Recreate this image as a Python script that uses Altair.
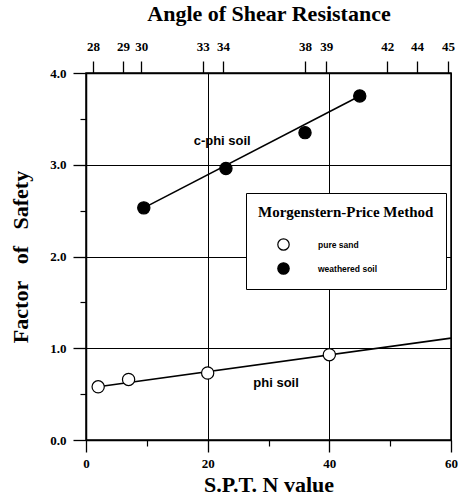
import altair as alt
import pandas as pd

# Factor of safety from the Morgenstern-Price method against SPT N value
sand_n = [2, 7, 20, 40]
sand_fs = [0.58, 0.66, 0.73, 0.93]
soil_n = [9.5, 23, 36, 45]
soil_fs = [2.53, 2.96, 3.35, 3.75]

# fitted trend lines (end points)
phi_n = [2, 60]
phi_fs = [0.58, 1.11]
cphi_n = [9.5, 45]
cphi_fs = [2.53, 3.75]

# angle of shear resistance corresponding to N (top axis)
angle_at_n = [1.15, 6.1, 9.1, 19.2, 22.5, 36.0, 39.5, 49.5, 54.4, 59.5]
angle_labels = ["28", "29", "30", "33", "34", "38", "39", "42", "44", "45"]

n_ticks = [0, 20, 40, 60]
n_minor = [10, 30, 50]
fs_ticks = [0, 1, 2, 3, 4]
fs_minor = [0.5, 1.5, 2.5, 3.5]

# curve annotations
note_text = ["c-phi soil", "phi soil"]
note_n = [17.7, 27.5]
note_fs = [3.26, 0.62]

SERIF = "Liberation Serif"
SANS = "Liberation Sans"
NBSP = "\u00a0"

points = pd.DataFrame({
    "N": sand_n + soil_n,
    "FS": sand_fs + soil_fs,
    "Soil": ["pure sand"] * len(sand_n) + ["weathered soil"] * len(soil_n),
})
lines = pd.DataFrame({
    "N": phi_n + cphi_n,
    "FS": phi_fs + cphi_fs,
    "Curve": ["phi"] * len(phi_n) + ["c-phi"] * len(cphi_n),
})
notes = pd.DataFrame({"label": note_text, "N": note_n, "FS": note_fs})

xscale = alt.Scale(domain=[0, 60], nice=False, zero=False)
yscale = alt.Scale(domain=[0, 4], nice=False, zero=False)

main_x = alt.Axis(
    orient="bottom", values=n_ticks, format="d", grid=True, gridColor="black",
    gridWidth=1, tickSize=12, tickWidth=1.3, domainWidth=1.5, labelFlush=False,
    labelFont=SERIF, labelFontWeight="bold", labelFontSize=13, labelPadding=5,
    title="S.P.T. N value", titleFont=SERIF, titleFontWeight="bold",
    titleFontSize=22, titlePadding=4,
)
main_y = alt.Axis(
    orient="left", values=fs_ticks, format=".1f", grid=True, gridColor="black",
    gridWidth=1, tickSize=13, tickWidth=1.3, domainWidth=1.5,
    labelFont=SERIF, labelFontWeight="bold", labelFontSize=13, labelPadding=7,
    title=f"Factor{NBSP * 3}of{NBSP * 3}Safety", titleFont=SERIF,
    titleFontWeight="bold", titleFontSize=22, titlePadding=17,
)
minor_x = alt.Axis(orient="bottom", values=n_minor, tickSize=6, tickWidth=1.2,
                   labels=False, domain=False, grid=False, title=None)
minor_y = alt.Axis(orient="left", values=fs_minor, tickSize=6, tickWidth=1.2,
                   labels=False, domain=False, grid=False, title=None)

label_expr = "[" + ",".join(f"'{s}'" for s in angle_labels) + "][indexof([" + \
    ",".join(str(v) for v in angle_at_n) + "], datum.value)]"
top_x = alt.Axis(
    orient="top", values=angle_at_n, labelExpr=label_expr, grid=False,
    tickSize=12, tickWidth=1.3, domainWidth=1.5, labelFlush=False,
    labelFont=SERIF, labelFontWeight="bold", labelFontSize=13, labelPadding=8,
    title="Angle of Shear Resistance", titleFont=SERIF, titleFontWeight="bold",
    titleFontSize=22, titlePadding=15,
)

dots = alt.Chart(points).mark_point(
    shape="circle", filled=True, stroke="black", strokeWidth=1.2,
    size=150, opacity=1,
).encode(
    x=alt.X("N:Q", scale=xscale, axis=main_x),
    y=alt.Y("FS:Q", scale=yscale, axis=main_y),
    fill=alt.Fill(
        "Soil:N",
        scale=alt.Scale(domain=["pure sand", "weathered soil"],
                        range=["white", "black"]),
        legend=alt.Legend(
            title="Morgenstern-Price Method", orient="none",
            legendX=160, legendY=120,
            titleFont=SERIF, titleFontWeight="bold", titleFontSize=15,
            titlePadding=18,
            labelFont=SANS, labelFontWeight="bold", labelFontSize=8.5,
            symbolType="circle", symbolSize=130, symbolStrokeColor="black",
            symbolStrokeWidth=1.2, symbolOffset=19, labelOffset=28,
            rowPadding=7, padding=12,
            fillColor="white", strokeColor="black",
        ),
    ),
)

trend = alt.Chart(lines).mark_line(color="black", strokeWidth=1.6).encode(
    x=alt.X("N:Q", scale=xscale, axis=minor_x),
    y=alt.Y("FS:Q", scale=yscale, axis=minor_y),
    detail="Curve:N",
)

labels = alt.Chart(notes).mark_text(
    align="left", baseline="middle", font=SANS, fontWeight="bold",
    fontSize=13, color="black",
).encode(
    x=alt.X("N:Q", scale=xscale, axis=top_x),
    y=alt.Y("FS:Q", scale=yscale, axis=None),
    text="label:N",
)

chart = alt.layer(trend, dots, labels).resolve_axis(
    x="independent", y="independent"
).properties(
    width=365, height=367,
    autosize=alt.AutoSizeParams(type="none"),
    padding={"left": 86, "top": 73, "right": 7, "bottom": 59},
    background="white",
).configure_view(
    stroke="black", strokeWidth=1.5
).configure_axis(
    domainColor="black", tickColor="black", labelColor="black", titleColor="black"
)

chart.save("out.html", embed_options={"renderer": "svg", "actions": False})
